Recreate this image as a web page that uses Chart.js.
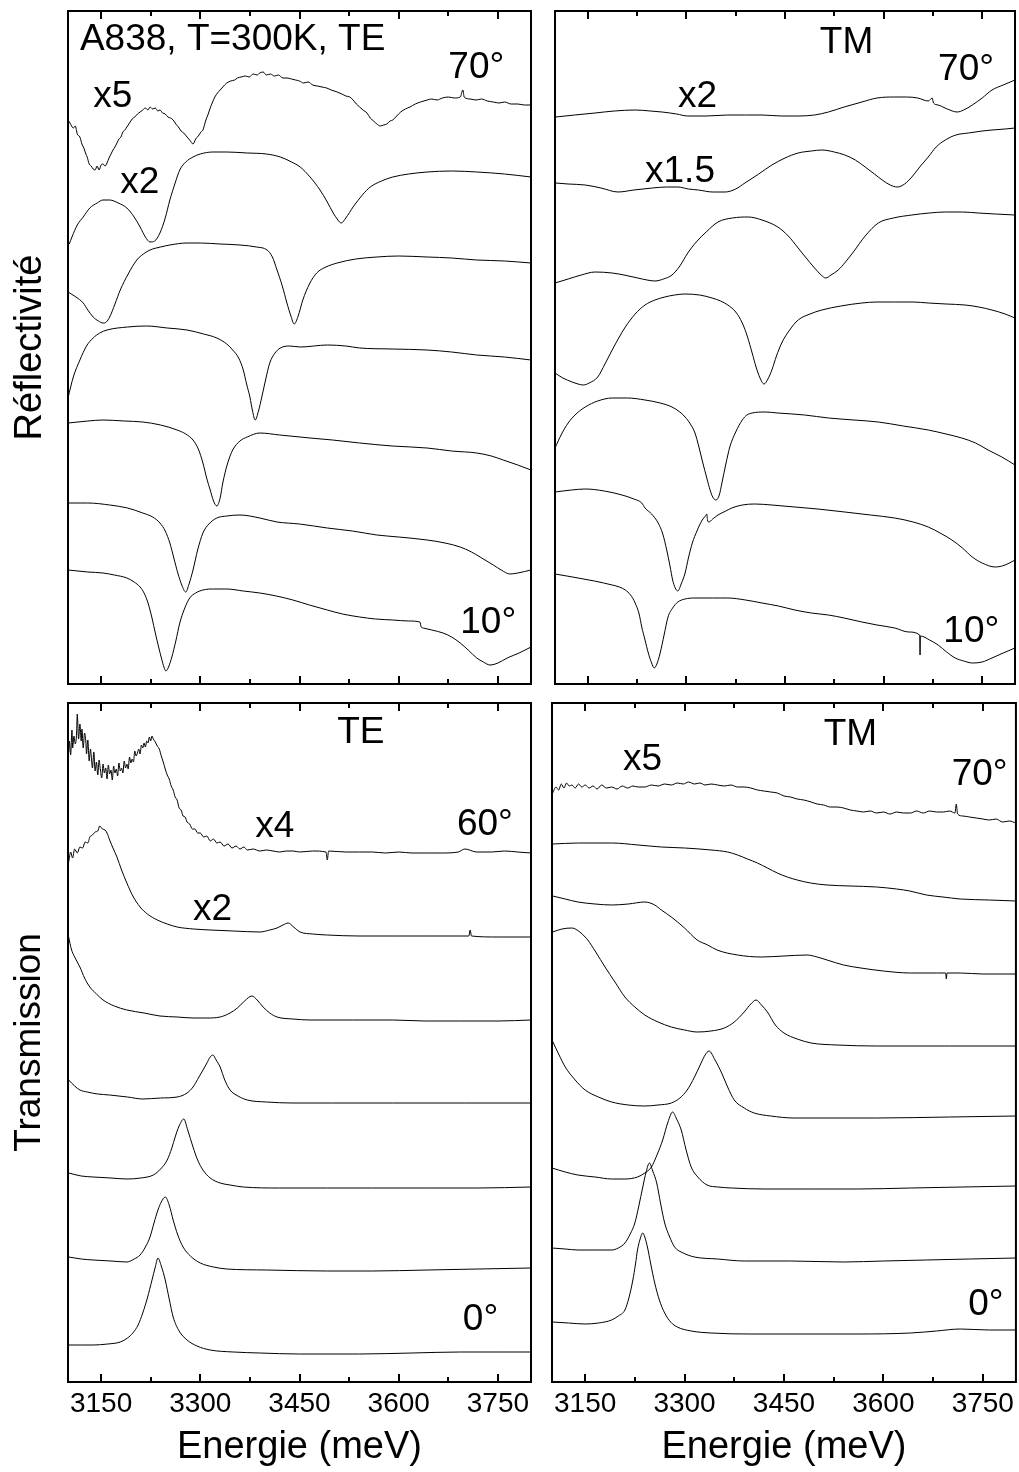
<!DOCTYPE html>
<html><head><meta charset="utf-8">
<script src="https://cdn.jsdelivr.net/npm/chart.js@4.4.1/dist/chart.umd.min.js"></script>
<style>
html,body{margin:0;padding:0;background:#fff;}
#wrap{position:relative;width:1019px;height:1472px;overflow:hidden;}
canvas{position:absolute;}
</style></head><body>
<div id="wrap">
<canvas id="cTL" style="left:0;top:0;" width="545" height="692"></canvas>
<canvas id="cTR" style="left:545px;top:0;" width="474" height="692"></canvas>
<canvas id="cBL" style="left:0;top:692px;" width="545" height="780"></canvas>
<canvas id="cBR" style="left:545px;top:692px;" width="474" height="780"></canvas>
</div>
<script>
// ---- axis ticks (meV) ----
const energyTicks = [3150, 3300, 3450, 3600, 3750];
const energyMinorTicks = [3225, 3375, 3525, 3675];
const xAxisTitle = 'Energie (meV)';

// ---- Réflectivité TE (offset curves, a.u.) : [energy meV, value] ----
const reflTE70 = [[3101,563],[3103,561],[3108,556],[3111,558],[3114,550],[3118,547],[3121,540],[3124,536],[3127,530],[3129,527],[3132,520],[3135,518],[3138,515],[3141,514],[3144,518],[3147,514],[3150,519],[3153,520],[3156,518],[3159,521],[3162,526],[3165,530],[3168,534],[3171,537],[3174,541],[3177,545],[3180,547],[3183,552],[3186,554],[3189,557],[3193,561],[3197,565],[3201,567],[3205,570],[3209,572],[3213,574],[3217,576],[3221,574],[3224,577],[3228,575],[3232,576],[3236,573],[3239,574],[3243,571],[3247,570],[3251,567],[3255,566],[3259,564],[3263,560],[3267,557],[3271,553],[3275,551],[3280,547],[3284,544],[3289,540],[3293,545],[3297,548],[3301,552],[3304,554],[3308,563],[3312,570],[3315,576],[3318,581],[3322,587],[3326,591],[3330,594],[3334,597],[3340,601],[3346,603],[3352,604],[3356,606],[3362,607],[3368,608],[3374,607],[3380,610],[3386,609],[3390,611],[3395,612],[3400,609],[3406,610],[3412,608],[3418,609],[3425,606],[3431,606],[3438,605],[3444,604],[3450,603],[3456,601],[3463,602],[3470,599],[3477,598],[3484,597],[3491,596],[3498,594],[3507,592],[3514,590],[3520,588],[3526,587],[3531,584],[3536,580],[3541,577],[3546,574],[3552,571],[3557,566],[3562,563],[3567,560],[3572,558],[3577,559],[3582,560],[3587,563],[3591,564],[3597,568],[3603,572],[3610,575],[3617,577],[3625,580],[3633,582],[3643,584],[3650,585],[3658,584],[3666,586],[3675,587],[3684,586],[3693,587],[3697,594],[3699,587],[3708,585],[3717,584],[3725,585],[3734,583],[3743,582],[3752,581],[3760,582],[3770,580],[3780,580],[3790,579],[3800,579]];
const reflTE60 = [[3102,440],[3106,447],[3114,459],[3123,467],[3133,476],[3144,481],[3153,484],[3163,484],[3176,481],[3189,476],[3200,467],[3209,457],[3217,447],[3224,442],[3231,443],[3239,451],[3247,466],[3254,484],[3262,501],[3269,514],[3278,522],[3289,527],[3300,530],[3319,532],[3340,532],[3371,531],[3400,530],[3421,527],[3438,522],[3451,517],[3466,507],[3481,494],[3492,482],[3501,471],[3508,464],[3513,461],[3520,466],[3531,477],[3545,489],[3557,497],[3574,503],[3591,507],[3615,510],[3643,512],[3680,513],[3718,512],[3760,510],[3800,507]];
const reflTE50 = [[3100,392],[3112,387],[3123,381],[3130,374],[3138,367],[3146,363],[3153,361],[3158,362],[3163,367],[3171,380],[3179,394],[3191,410],[3204,424],[3214,430],[3224,434],[3240,437],[3254,439],[3280,441],[3300,441],[3330,440],[3360,439],[3385,437],[3401,434],[3409,427],[3416,414],[3424,398],[3431,381],[3437,368],[3442,360],[3448,368],[3455,384],[3465,400],[3476,411],[3490,417],[3507,421],[3535,425],[3567,427],[3600,428],[3643,427],[3680,426],[3718,424],[3760,423],[3800,421]];
const reflTE40 = [[3100,286],[3108,307],[3118,324],[3128,338],[3138,346],[3148,351],[3159,354],[3190,357],[3219,358],[3250,356],[3280,354],[3305,350],[3325,346],[3340,340],[3349,334],[3358,326],[3365,314],[3370,300],[3375,287],[3379,273],[3383,264],[3388,273],[3393,287],[3399,305],[3405,321],[3413,331],[3421,336],[3435,338],[3451,337],[3492,339],[3520,338],[3541,336],[3590,335],[3643,334],[3680,332],[3718,329],[3760,327],[3800,324]];
const reflTE30 = [[3100,261],[3130,263],[3153,264],[3185,263],[3213,262],[3240,259],[3265,254],[3278,250],[3289,244],[3297,235],[3304,221],[3310,205],[3315,194],[3320,183],[3325,178],[3330,186],[3334,201],[3341,220],[3349,234],[3360,243],[3371,247],[3390,251],[3420,249],[3466,246],[3500,244],[3541,241],[3590,238],[3643,236],[3680,233],[3718,231],[3740,228],[3758,224],[3780,219],[3800,214]];
const reflTE20 = [[3100,181],[3130,181],[3163,179],[3190,176],[3213,171],[3228,167],[3239,161],[3247,153],[3254,141],[3260,126],[3266,111],[3272,99],[3278,92],[3283,100],[3289,114],[3296,134],[3304,151],[3313,160],[3325,166],[3340,168],[3360,169],[3390,166],[3416,162],[3450,160],[3492,156],[3530,153],[3567,149],[3600,147],[3643,144],[3670,141],[3693,137],[3710,132],[3723,127],[3743,119],[3755,114],[3768,110],[3780,111],[3800,114]];
const reflTE10 = [[3100,114],[3130,112],[3153,111],[3170,109],[3189,106],[3200,102],[3209,97],[3215,91],[3221,81],[3227,66],[3232,51],[3237,37],[3242,24],[3245,17],[3248,13],[3252,17],[3257,27],[3263,43],[3269,61],[3276,75],[3284,86],[3293,91],[3304,94],[3320,95],[3340,95],[3365,93],[3390,91],[3415,88],[3440,84],[3465,79],[3492,74],[3515,70],[3541,67],[3565,65],[3591,64],[3615,63],[3632,62],[3634,57],[3637,56],[3650,54],[3667,51],[3680,47],[3693,41],[3705,34],[3718,26],[3728,22],[3738,19],[3750,21],[3764,26],[3782,31],[3800,37]];

// ---- Réflectivité TM ----
const reflTM70 = [[3101,567],[3130,569],[3161,571],[3190,573],[3222,574],[3245,573],[3263,572],[3285,570],[3302,568],[3330,568],[3363,569],[3390,569],[3415,569],[3445,568],[3470,568],[3495,569],[3516,572],[3540,577],[3567,582],[3590,586],[3617,587],[3635,587],[3652,586],[3668,583],[3674,586],[3676,581],[3683,579],[3697,575],[3712,572],[3722,574],[3735,579],[3750,586],[3765,594],[3782,599],[3800,604]];
const reflTM60 = [[3101,501],[3120,500],[3146,499],[3170,496],[3196,492],[3220,494],[3248,496],[3270,497],[3287,497],[3303,495],[3318,494],[3340,492],[3359,492],[3375,495],[3389,501],[3410,510],[3430,519],[3450,526],[3470,531],[3490,533],[3506,534],[3525,532],[3541,529],[3557,524],[3572,517],[3586,510],[3598,504],[3610,499],[3621,497],[3632,500],[3643,507],[3655,517],[3668,527],[3680,537],[3694,544],[3710,549],[3729,551],[3750,553],[3765,554],[3785,555],[3800,556]];
const reflTM50 = [[3100,401],[3120,405],[3140,409],[3161,412],[3187,411],[3205,409],[3226,406],[3240,404],[3252,403],[3265,405],[3278,409],[3290,418],[3302,431],[3315,442],[3330,452],[3348,462],[3370,466],[3394,467],[3415,464],[3439,457],[3455,448],[3470,436],[3481,427],[3495,416],[3505,409],[3512,406],[3520,409],[3531,414],[3542,422],[3554,432],[3572,448],[3592,461],[3615,466],[3643,469],[3670,471],[3694,472],[3720,472],[3744,471],[3770,470],[3800,469]];
const reflTM40 = [[3100,311],[3112,306],[3126,302],[3135,300],[3143,299],[3152,301],[3165,307],[3176,320],[3187,334],[3197,346],[3207,357],[3222,370],[3237,379],[3252,384],[3267,387],[3282,389],[3298,390],[3320,389],[3339,386],[3352,383],[3363,379],[3375,372],[3385,361],[3393,347],[3400,331],[3406,317],[3412,306],[3418,300],[3424,305],[3430,314],[3437,328],[3445,341],[3457,354],[3470,364],[3488,370],[3506,374],[3535,378],[3567,381],[3590,382],[3617,382],[3645,382],[3668,381],[3695,380],[3724,379],[3745,377],[3765,374],[3785,370],[3800,366]];
const reflTM30 = [[3100,236],[3110,250],[3120,261],[3132,270],[3146,277],[3165,283],[3187,286],[3210,286],[3237,284],[3260,281],[3278,277],[3290,272],[3298,267],[3306,260],[3313,251],[3319,237],[3325,221],[3331,206],[3336,194],[3340,187],[3345,184],[3350,189],[3354,201],[3360,220],[3366,237],[3375,252],[3385,264],[3392,269],[3400,271],[3420,272],[3439,271],[3480,269],[3516,266],[3555,264],[3592,262],[3630,258],[3668,254],[3695,250],[3719,246],[3740,241],[3759,234],[3780,227],[3800,219]];
const reflTM20 = [[3100,192],[3125,194],[3146,195],[3175,193],[3202,189],[3220,185],[3232,181],[3237,176],[3247,170],[3257,161],[3264,150],[3270,134],[3275,118],[3279,104],[3283,96],[3287,93],[3292,100],[3298,111],[3303,126],[3309,141],[3316,153],[3324,164],[3329,168],[3331,170],[3332,164],[3334,162],[3340,165],[3348,169],[3360,173],[3369,176],[3385,179],[3404,180],[3430,179],[3465,177],[3500,175],[3541,172],[3580,169],[3617,166],[3645,162],[3668,157],[3686,151],[3704,144],[3720,136],[3735,127],[3750,121],[3770,117],[3785,119],[3800,124]];
const reflTM10 = [[3100,110],[3118,108],[3135,106],[3160,103],[3187,99],[3198,97],[3207,94],[3215,89],[3222,81],[3228,70],[3232,57],[3237,44],[3242,31],[3247,21],[3251,16],[3255,20],[3260,31],[3266,49],[3272,67],[3279,76],[3287,82],[3298,85],[3313,86],[3340,86],[3363,86],[3390,84],[3415,81],[3440,78],[3465,74],[3490,71],[3516,69],[3540,66],[3567,62],[3590,59],[3617,56],[3638,52],[3655,49],[3655.5,29],[3656,48],[3670,44],[3683,39],[3696,32],[3709,26],[3722,23],[3735,21],[3750,22],[3765,26],[3782,31],[3800,36]];

// ---- Transmission TE ----
const transTE60 = [[3101,630],[3102,641],[3104,627],[3106,652],[3107,634],[3109,646],[3111,638],[3113,649],[3114,668],[3116,643],[3118,658],[3120,641],[3121,653],[3123,634],[3125,649],[3127,640],[3128,628],[3130,642],[3132,621],[3134,633],[3135,627],[3137,614],[3139,630],[3141,611],[3143,620],[3145,607],[3147,622],[3149,612],[3151,604],[3153,618],[3155,609],[3157,614],[3159,603],[3161,617],[3163,608],[3165,612],[3167,602],[3169,616],[3171,609],[3173,613],[3175,606],[3177,619],[3179,611],[3181,614],[3183,609],[3185,621],[3187,614],[3189,618],[3191,613],[3193,625],[3195,619],[3197,623],[3199,620],[3201,631],[3203,626],[3205,629],[3207,633],[3209,628],[3211,637],[3213,634],[3215,639],[3217,635],[3219,641],[3221,639],[3223,645],[3225,641],[3227,646],[3229,643],[3232,640],[3235,636],[3238,633],[3241,626],[3244,620],[3247,613],[3250,607],[3253,603],[3256,596],[3259,592],[3262,585],[3265,582],[3268,574],[3271,572],[3274,566],[3277,565],[3280,560],[3284,558],[3288,553],[3292,553],[3296,549],[3300,549],[3305,545],[3310,546],[3315,541],[3320,543],[3325,539],[3330,540],[3336,536],[3342,538],[3348,534],[3354,536],[3360,533],[3366,535],[3371,532],[3380,533],[3390,531],[3400,532],[3410,531],[3420,530],[3430,531],[3440,531],[3450,530],[3470,531],[3490,530],[3492,522],[3494,531],[3520,530],[3541,530],[3560,530],[3580,529],[3600,530],[3620,529],[3643,529],[3665,529],[3690,530],[3700,533],[3718,530],[3740,530],[3760,531],[3780,530],[3800,529]];
const transTE50 = [[3101,520],[3104,530],[3107,524],[3110,533],[3114,529],[3118,535],[3122,534],[3126,540],[3130,539],[3133,545],[3137,547],[3141,550],[3145,551],[3148,556],[3152,553],[3156,552],[3159,549],[3163,542],[3168,534],[3174,525],[3181,512],[3189,499],[3198,486],[3209,475],[3220,468],[3235,462],[3250,458],[3265,455],[3290,453],[3315,452],[3350,451],[3390,450],[3405,452],[3416,454],[3425,457],[3433,459],[3441,455],[3451,450],[3470,448],[3492,447],[3540,446],[3591,446],[3640,446],[3693,446],[3706,446],[3708,452],[3710,446],[3750,445],[3800,445]];
const transTE40 = [[3101,445],[3105,433],[3110,425],[3118,415],[3125,404],[3133,395],[3143,388],[3153,382],[3170,376],[3189,372],[3215,369],[3239,366],[3265,365],[3289,364],[3310,364],[3330,365],[3345,369],[3356,374],[3367,381],[3378,386],[3386,382],[3395,375],[3405,369],[3416,365],[3440,363],[3466,362],[3530,362],[3591,362],[3640,361],[3693,361],[3750,361],[3800,362]];
const transTE30 = [[3101,302],[3110,296],[3118,292],[3129,290],[3145,288],[3163,287],[3190,285],[3213,283],[3240,284],[3265,285],[3280,289],[3289,295],[3298,305],[3305,313],[3310,319],[3315,325],[3319,327],[3324,322],[3330,315],[3337,302],[3345,292],[3357,286],[3371,282],[3400,280],[3440,279],[3500,279],[3591,279],[3700,279],[3800,279]];
const transTE20 = [[3101,209],[3120,206],[3138,205],[3165,204],[3189,203],[3210,204],[3229,207],[3240,213],[3250,222],[3257,234],[3262,245],[3268,256],[3275,263],[3281,252],[3289,235],[3296,222],[3304,212],[3315,204],[3330,199],[3345,197],[3365,195],[3420,194],[3492,194],[3560,194],[3643,194],[3720,194],[3800,195]];
const transTE10 = [[3101,125],[3120,123],[3138,122],[3165,121],[3189,120],[3200,123],[3209,127],[3217,135],[3224,145],[3230,159],[3236,172],[3241,180],[3247,185],[3253,177],[3259,162],[3266,147],[3274,135],[3285,126],[3300,119],[3320,115],[3340,113],[3400,112],[3492,111],[3560,111],[3643,112],[3720,113],[3800,114]];
const transTE0 = [[3101,37],[3120,37],[3138,37],[3160,38],[3179,40],[3190,44],[3198,49],[3206,57],[3213,69],[3220,84],[3227,102],[3232,115],[3236,124],[3241,116],[3247,102],[3253,83],[3259,65],[3268,51],[3280,42],[3295,36],[3315,32],[3350,30],[3390,29],[3450,28],[3541,28],[3620,29],[3693,30],[3750,30],[3800,30]];

// ---- Transmission TM ----
const transTM70 = [[3101,589],[3106,595],[3110,592],[3114,598],[3118,594],[3122,599],[3126,596],[3130,597],[3135,594],[3140,598],[3145,595],[3150,597],[3156,594],[3162,596],[3168,593],[3175,597],[3182,594],[3190,595],[3198,593],[3206,596],[3214,594],[3222,596],[3230,595],[3240,595],[3250,597],[3260,596],[3270,598],[3280,597],[3289,599],[3298,598],[3306,600],[3315,598],[3323,599],[3331,597],[3340,598],[3350,597],[3360,596],[3370,597],[3380,595],[3390,595],[3400,594],[3410,592],[3420,591],[3430,590],[3440,589],[3450,586],[3460,585],[3470,583],[3480,582],[3491,580],[3500,578],[3510,577],[3520,575],[3530,575],[3540,574],[3550,572],[3560,571],[3570,570],[3580,571],[3590,569],[3600,570],[3610,568],[3620,570],[3630,569],[3641,569],[3650,571],[3660,569],[3670,571],[3680,570],[3691,570],[3700,571],[3708,569],[3710,578],[3712,568],[3720,566],[3730,565],[3740,564],[3750,563],[3760,562],[3770,563],[3780,560],[3790,561],[3800,559]];
const transTM60 = [[3101,538],[3140,539],[3190,539],[3230,537],[3265,535],[3300,534],[3340,532],[3365,530],[3380,527],[3395,523],[3410,519],[3425,514],[3440,509],[3455,505],[3470,502],[3490,499],[3515,497],[3550,496],[3590,495],[3620,493],[3640,491],[3665,487],[3690,485],[3716,483],[3760,482],[3800,481]];
const transTM50 = [[3101,486],[3120,483],[3139,480],[3165,478],[3190,477],[3215,478],[3240,480],[3255,477],[3265,472],[3280,465],[3300,454],[3319,442],[3335,437],[3349,432],[3380,427],[3416,425],[3450,426],[3485,427],[3500,425],[3515,422],[3540,417],[3566,414],[3600,411],[3641,409],[3680,409],[3694,409],[3695,403],[3696,409],[3716,409],[3750,408],[3800,408]];
const transTM40 = [[3101,450],[3115,453],[3130,454],[3142,450],[3150,445],[3154,442],[3166,430],[3180,415],[3195,400],[3210,385],[3225,375],[3240,367],[3260,360],[3280,355],[3300,352],[3319,350],[3340,351],[3360,354],[3375,360],[3390,370],[3400,378],[3408,382],[3416,377],[3425,370],[3437,357],[3450,349],[3470,343],[3491,339],[3530,337],[3590,336],[3700,336],[3800,336]];
const transTM30 = [[3100,342],[3110,328],[3120,315],[3135,302],[3150,292],[3170,285],[3190,280],[3215,277],[3240,276],[3260,277],[3280,279],[3293,284],[3304,292],[3315,305],[3325,319],[3331,327],[3337,331],[3346,322],[3356,309],[3365,295],[3375,282],[3390,274],[3405,269],[3430,266],[3465,264],[3530,264],[3590,264],[3700,265],[3800,266]];
const transTM20 = [[3100,214],[3120,210],[3139,207],[3165,205],[3190,203],[3210,203],[3229,205],[3240,209],[3250,215],[3259,228],[3267,242],[3275,260],[3282,270],[3288,263],[3295,252],[3302,233],[3310,215],[3320,205],[3334,197],[3350,195],[3371,194],[3420,193],[3491,193],[3560,193],[3641,194],[3720,195],[3800,196]];
const transTM10 = [[3100,134],[3120,133],[3139,132],[3165,132],[3190,132],[3200,134],[3210,139],[3218,148],[3225,159],[3231,176],[3237,195],[3242,210],[3247,219],[3252,211],[3258,199],[3264,178],[3270,159],[3277,146],[3285,135],[3298,129],[3315,125],[3350,123],[3390,121],[3460,121],[3540,120],[3600,121],[3665,122],[3730,123],[3800,124]];
const transTM0 = [[3100,60],[3125,59],[3150,58],[3170,59],[3190,62],[3200,66],[3210,72],[3216,84],[3222,102],[3226,118],[3229,132],[3233,143],[3237,149],[3240,145],[3244,135],[3249,118],[3255,99],[3262,82],[3270,69],[3279,60],[3289,55],[3310,51],[3340,49],[3400,48],[3491,48],[3560,48],[3641,49],[3680,51],[3716,53],[3760,52],[3800,52]];

// ---- in-plot labels (text, anchor in data units) ----
const labelsTL = [['A838, T=300K, TE',3118,634],['70°',3675,606],['x5',3138,577],['x2',3179,491],['10°',3693,51]];
const labelsTR = [['TM',3503,631],['70°',3683,604],['x2',3287,577],['x1.5',3237,502],['10°',3691,42]];
const labelsBL = [['TE',3507,639],['60°',3688,547],['x4',3383,545],['x2',3289,462],['0°',3697,52]];
const labelsBR = [['TM',3510,637],['x5',3207,612],['70°',3703,597],['0°',3728,67]];

// ---------------- drawing ----------------
const FONT = '"Liberation Sans", Arial, Helvetica, sans-serif';

function framePlugin(labels) {
  return {
    id: 'frameTicks',
    afterDatasetsDraw(chart) {
      const ctx = chart.ctx, a = chart.chartArea, xs = chart.scales.x, ys = chart.scales.y;
      ctx.save();
      ctx.strokeStyle = '#000';
      ctx.lineWidth = 2;
      ctx.strokeRect(a.left, a.top, a.right - a.left, a.bottom - a.top);
      const drawTick = (v, len) => {
        const p = Math.round(xs.getPixelForValue(v));
        ctx.beginPath();
        ctx.moveTo(p, a.top); ctx.lineTo(p, a.top + len);
        ctx.moveTo(p, a.bottom); ctx.lineTo(p, a.bottom - len);
        ctx.stroke();
      };
      energyTicks.forEach(v => drawTick(v, 8));
      energyMinorTicks.forEach(v => drawTick(v, 5));
      ctx.fillStyle = '#000';
      ctx.font = '37px ' + FONT;
      ctx.textBaseline = 'alphabetic';
      ctx.textAlign = 'left';
      labels.forEach(l => ctx.fillText(l[0], xs.getPixelForValue(l[1]), ys.getPixelForValue(l[2])));
      ctx.restore();
    }
  };
}

function makePanel(id, curves, labels, cfg) {
  new Chart(document.getElementById(id), {
    type: 'line',
    data: {
      datasets: curves.map(c => ({
        data: c.map(p => ({ x: p[0], y: p[1] })),
        borderColor: '#000', borderWidth: 1, pointRadius: 0, fill: false,
        cubicInterpolationMode: 'monotone'
      }))
    },
    options: {
      responsive: false, animation: false, devicePixelRatio: 1,
      layout: { padding: cfg.padding },
      plugins: { legend: { display: false }, tooltip: { enabled: false } },
      scales: {
        x: {
          type: 'linear', min: 3100, max: 3800, display: cfg.showX,
          afterBuildTicks: s => { s.ticks = energyTicks.map(v => ({ value: v })); },
          afterFit: s => { s.height = cfg.showX ? 90 : 0; },
          grid: { display: false, drawTicks: false }, border: { display: false },
          ticks: { color: '#000', font: { family: FONT, size: 28 }, padding: 5, maxRotation: 0, autoSkip: false, callback: v => String(v) },
          title: { display: true, text: xAxisTitle, color: '#000', font: { family: FONT, size: 38 }, padding: { top: 0, bottom: 2 } }
        },
        y: {
          type: 'linear', min: 0, max: cfg.ymax, display: !!cfg.yTitle,
          afterFit: s => { s.width = cfg.yTitle ? 68 : 0; },
          grid: { display: false, drawTicks: false }, border: { display: false },
          ticks: { display: false },
          title: { display: true, text: cfg.yTitle || '', color: '#000', font: { family: FONT, size: cfg.yFont || 37 }, padding: { top: 8, bottom: 0 } }
        }
      }
    },
    plugins: [framePlugin(labels)]
  });
}

makePanel('cTL', [reflTE70, reflTE60, reflTE50, reflTE40, reflTE30, reflTE20, reflTE10], labelsTL,
  { padding: { left: 0, top: 11, right: 14, bottom: 8 }, showX: false, ymax: 673, yTitle: 'Réflectivité', yFont: 38 });
makePanel('cTR', [reflTM70, reflTM60, reflTM50, reflTM40, reflTM30, reflTM20, reflTM10], labelsTR,
  { padding: { left: 10, top: 11, right: 4, bottom: 8 }, showX: false, ymax: 673, yTitle: null });
makePanel('cBL', [transTE60, transTE50, transTE40, transTE30, transTE20, transTE10, transTE0], labelsBL,
  { padding: { left: 0, top: 11, right: 14, bottom: 0 }, showX: true, ymax: 679, yTitle: 'Transmission' });
makePanel('cBR', [transTM70, transTM60, transTM50, transTM40, transTM30, transTM20, transTM10, transTM0], labelsBR,
  { padding: { left: 7, top: 11, right: 1, bottom: 0 }, showX: true, ymax: 679, yTitle: null });
</script>
</body></html>
